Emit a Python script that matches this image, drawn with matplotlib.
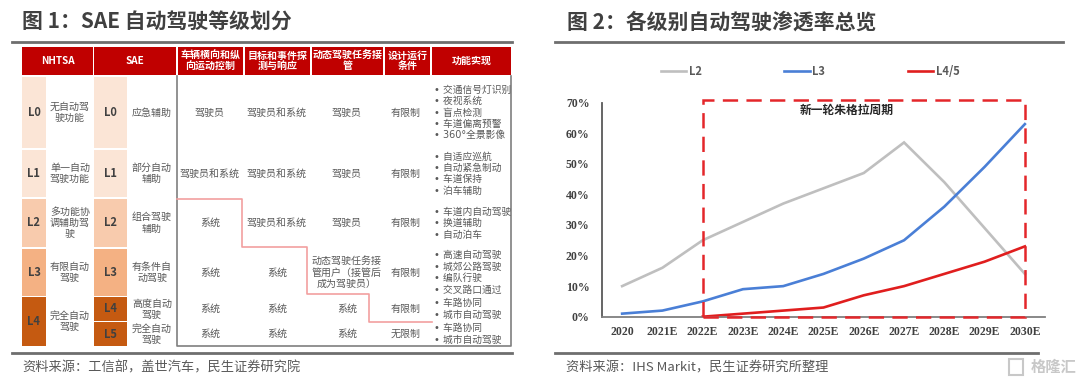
import numpy as np
import matplotlib.pyplot as plt
from matplotlib.patches import Rectangle

plt.rcParams['font.family'] = ['Noto Sans CJK SC', 'DejaVu Sans']
plt.rcParams['lines.scale_dashes'] = False

# ---- right chart data ----
years = ['2020', '2021E', '2022E', '2023E', '2024E', '2025E',
         '2026E', '2027E', '2028E', '2029E', '2030E']
l2 = [0.10, 0.16, 0.25, 0.31, 0.37, 0.42, 0.47, 0.57, 0.44, 0.29, 0.14]
l3 = [0.01, 0.02, 0.05, 0.09, 0.10, 0.14, 0.19, 0.25, 0.36, 0.49, 0.63]
l45 = [np.nan, np.nan, 0.00, 0.01, 0.02, 0.03, 0.07, 0.10, 0.14, 0.18, 0.23]
series_names = ['L2', 'L3', 'L4/5']
series_colors = ['#BFBFBF', '#4A7FD6', '#E01E1E']
yticks = [0, 0.1, 0.2, 0.3, 0.4, 0.5, 0.6, 0.7]
cycle_start, cycle_end, cycle_top = 2, 10, 0.71

# ---- left table data ----
headers = ['NHTSA', 'SAE', '车辆横向和纵\n向运动控制', '目标和事件探\n测与响应',
           '动态驾驶任务接\n管', '设计运行\n条件', '功能实现']
nhtsa_levels = ['L0', 'L1', 'L2', 'L3', 'L4']
nhtsa_desc = ['无自动驾\n驶功能', '单一自动\n驾驶功能', '多功能协\n调辅助驾\n驶', '有限自动\n驾驶', '完全自动\n驾驶']
sae_levels = ['L0', 'L1', 'L2', 'L3', 'L4', 'L5']
sae_desc = ['应急辅助', '部分自动\n辅助', '组合驾驶\n辅助', '有条件自\n动驾驶', '高度自动\n驾驶', '完全自动\n驾驶']
motion = ['驾驶员', '驾驶员和系统', '系统', '系统', '系统', '系统']
detect = ['驾驶员和系统', '驾驶员和系统', '驾驶员和系统', '系统', '系统', '系统']
takeover = ['驾驶员', '驾驶员', '驾驶员', '动态驾驶任务接\n管用户（接管后\n成为驾驶员）', '系统', '系统']
odd = ['有限制', '有限制', '有限制', '有限制', '有限制', '无限制']
functions = [
    ['交通信号灯识别', '夜视系统', '盲点检测', '车道偏离预警', '360°全景影像'],
    ['自适应巡航', '自动紧急制动', '车道保持', '泊车辅助'],
    ['车道内自动驾驶', '换道辅助', '自动泊车'],
    ['高速自动驾驶', '城郊公路驾驶', '编队行驶', '交叉路口通过'],
    ['车路协同', '城市自动驾驶'],
    ['车路协同', '城市自动驾驶'],
]
level_colors = ['#FBE5D6', '#FBE5D6', '#F8CBAD', '#F4B183', '#C55A11', '#C55A11']

fig = plt.figure(figsize=(10.8, 3.84), dpi=100)
bg = fig.add_axes([0, 0, 1, 1])
bg.set_xlim(0, 1080)
bg.set_ylim(384, 0)
bg.axis('off')

dark = '#404040'
grey = '#595959'

# titles, rules and sources
bg.text(22, 22, '图 1：SAE 自动驾驶等级划分', fontsize=15, fontweight='bold', color=dark, va='center')
bg.text(567, 22, '图 2：各级别自动驾驶渗透率总览', fontsize=15, fontweight='bold', color=dark, va='center')
for x0, x1 in [(12, 512), (555, 1063)]:
    bg.plot([x0, x1], [42, 42], color='#6E6E6E', lw=2)
bg.plot([12, 512], [353, 353], color='#6E6E6E', lw=2)
bg.plot([555, 1038], [353, 353], color='#6E6E6E', lw=2)
bg.text(22, 368, '资料来源：工信部，盖世汽车，民生证券研究院', fontsize=9.5, color=grey, va='center')
bg.text(566, 368, '资料来源：IHS Markit，民生证券研究所整理', fontsize=9.5, color=grey, va='center')
bg.text(1076, 367, '格隆汇', fontsize=11, fontweight='bold', color='#C8C8C8', va='center', ha='right')
bg.add_patch(Rectangle((1009, 359), 14, 16, fill=False, ec='#C8C8C8', lw=1.5))

# ---- table ----
hdr_cells = [(22, 93), (94, 176), (178, 243), (245, 310), (312, 383), (385, 430), (432, 511)]
for (x0, x1), txt in zip(hdr_cells, headers):
    bg.add_patch(Rectangle((x0, 47), x1 - x0, 28, color='#C00000', lw=0))
    bg.text((x0 + x1) / 2, 61, txt, fontsize=7.2, fontweight='bold', color='white',
            ha='center', va='center', linespacing=1.1)

rows = [(77, 148), (150, 197), (199, 247), (249, 296), (297, 321), (322, 346)]
nhtsa_rows = rows[:4] + [(297, 346)]

def cell_text(x, y, s, **kw):
    bg.text(x, y, s, fontsize=7.2, color=grey, ha='center', va='center', linespacing=1.15, **kw)

for (y0, y1), lv, desc, c in zip(nhtsa_rows, nhtsa_levels, nhtsa_desc, level_colors[:4] + [level_colors[4]]):
    bg.add_patch(Rectangle((22, y0), 24, y1 - y0, color=c, lw=0))
    bg.text(34, (y0 + y1) / 2, lv, fontsize=8, fontweight='bold', color=dark, ha='center', va='center')
    cell_text(70, (y0 + y1) / 2, desc)

for i, (y0, y1) in enumerate(rows):
    yc = (y0 + y1) / 2
    bg.add_patch(Rectangle((94, y0), 33, y1 - y0, color=level_colors[i], lw=0))
    bg.text(110.5, yc, sae_levels[i], fontsize=8, fontweight='bold', color=dark, ha='center', va='center')
    cell_text(152, yc, sae_desc[i])
    cell_text(210, yc, motion[i])
    cell_text(277, yc, detect[i])
    cell_text(347, yc, takeover[i])
    cell_text(406, yc, odd[i])
    bg.text(434, yc, '\n'.join('• ' + f for f in functions[i]), fontsize=7.0, color=grey,
            ha='left', va='center', linespacing=1.18, family=['DejaVu Sans', 'Noto Sans CJK SC'])

# box around responsibility columns
bg.plot([177, 177, 511, 511], [76, 346, 346, 76], color='#7F7F7F', lw=1.2)
# driver / system boundary
bg.plot([177, 242, 242, 307, 307, 369, 369, 432], [199, 199, 247, 247, 294, 294, 322, 322],
        color='#F2A0A0', lw=1.2)

# ---- line chart ----
ax = fig.add_axes([602 / 1080, (384 - 316.7) / 384, (1045 - 602) / 1080, (316.7 - 102.7) / 384])
x = np.arange(len(years))
for vals, name, c in zip([l2, l3, l45], series_names, series_colors):
    ax.plot(x, vals, color=c, lw=1.9, label=name, solid_joinstyle='miter')
ax.set_xlim(-0.5, len(years) - 0.5)
ax.set_ylim(0, 0.70)
ax.set_yticks(yticks)
ax.set_yticklabels([f'{int(round(v * 100))}%' for v in yticks], family='Liberation Serif',
                   fontweight='bold', fontsize=8.5, color=dark)
ax.set_xticks(x)
ax.set_xticklabels(years, family='Liberation Serif', fontweight='bold', fontsize=8.5, color=dark)
ax.tick_params(axis='y', length=0, pad=9)
ax.tick_params(axis='x', length=0, pad=7)
for s in ['top', 'right']:
    ax.spines[s].set_visible(False)
ax.spines['left'].set_color('#595959')
ax.spines['left'].set_linewidth(1.3)
ax.spines['bottom'].set_color('#7F7F7F')
ax.spines['bottom'].set_linewidth(1.3)
ax.patch.set_alpha(0)

ax.add_patch(Rectangle((cycle_start, 0), cycle_end - cycle_start, cycle_top, fill=False,
                       ec='#E4262A', lw=1.8, linestyle=(0, (11, 6)), clip_on=False, zorder=5))
ax.text(5.57, 0.675, '新一轮朱格拉周期', fontsize=8.5, fontweight='bold', color='#262626',
        ha='center', va='center')

ax.legend(loc='center left', bbox_to_anchor=(655 / 1080, 1 - 71.7 / 384),
          bbox_transform=fig.transFigure, ncol=3, frameon=False, borderpad=0,
          handlelength=2.3, handletextpad=0.25, columnspacing=7.4,
          prop={'size': 8, 'weight': 'bold'}, labelcolor=grey)

fig.savefig('out.png', dpi=100)
